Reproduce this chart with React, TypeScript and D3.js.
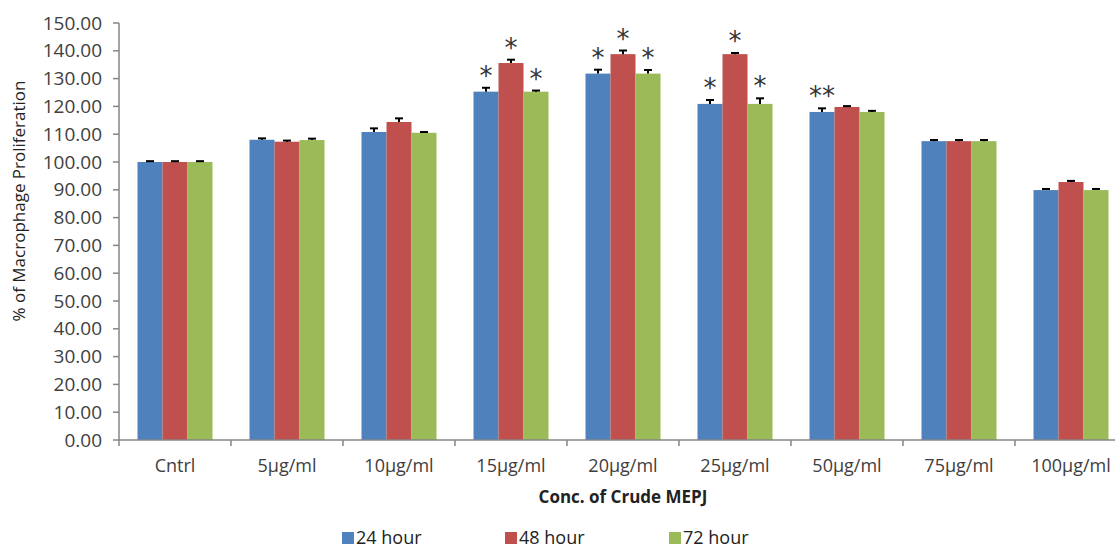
import React from "react";
import * as d3 from "d3";

const categories = [
  "Cntrl",
  "5µg/ml",
  "10µg/ml",
  "15µg/ml",
  "20µg/ml",
  "25µg/ml",
  "50µg/ml",
  "75µg/ml",
  "100µg/ml",
];
const seriesNames = ["24 hour", "48 hour", "72 hour"];
const colors = ["#4F81BD", "#C0504D", "#9BBB59"];

const h24 = [100, 108, 110.8, 125.3, 131.8, 120.9, 118, 107.5, 89.9];
const h48 = [100, 107.3, 114.4, 135.6, 138.8, 138.8, 119.8, 107.5, 92.8];
const h72 = [100, 107.9, 110.5, 125.3, 131.8, 120.9, 118, 107.5, 89.9];

const err24 = [0.3, 0.5, 1.3, 1.4, 1.4, 1.4, 1.3, 0.4, 0.4];
const err48 = [0.3, 0.4, 1.3, 1.2, 1.3, 0.4, 0.3, 0.4, 0.4];
const err72 = [0.3, 0.5, 0.3, 0.4, 1.3, 2.0, 0.4, 0.4, 0.4];

const star24 = ["", "", "", "*", "*", "*", "**", "", ""];
const star48 = ["", "", "", "*", "*", "*", "", "", ""];
const star72 = ["", "", "", "*", "*", "*", "", "", ""];

const yTicks = d3.range(0, 151, 10);

const FONT = "'Open Sans', 'Liberation Sans', sans-serif";

export default function App() {
  const width = 1115;
  const height = 550;
  const left = 119;
  const bottom = 440;
  const top = 23;

  const values = [h24, h48, h72];
  const errors = [err24, err48, err72];
  const stars = [star24, star48, star72];

  const x = d3
    .scaleBand<string>()
    .domain(categories)
    .range([left, left + 112 * categories.length])
    .padding(0);

  const inner = d3
    .scaleBand<string>()
    .domain(seriesNames)
    .range([18.5, 93.5])
    .padding(0);

  const y = d3.scaleLinear().domain([0, 150]).range([bottom, top]);

  return (
    <svg
      width={width}
      height={height}
      style={{ position: "absolute", left: 0, top: 0, background: "#fff" }}
      fontFamily={FONT}
    >
      {/* bars */}
      {categories.map((c, i) => (
        <g key={c} transform={`translate(${x(c)},0)`}>
          {seriesNames.map((s, k) => {
            const v = values[k][i];
            const e = errors[k][i];
            const bx = inner(s)!;
            const bw = inner.bandwidth();
            const cx = bx + bw / 2;
            return (
              <g key={s}>
                <rect
                  x={bx}
                  y={y(v)}
                  width={bw}
                  height={y(0) - y(v)}
                  fill={colors[k]}
                />
                <line x1={cx} x2={cx} y1={y(v)} y2={y(v + e)} stroke="#000" strokeWidth={2} />
                <line x1={cx - 4} x2={cx + 4} y1={y(v + e)} y2={y(v + e)} stroke="#000" strokeWidth={2} />
                {stars[k][i] && (
                  <text
                    x={cx}
                    y={y(v + e) - 3}
                    textAnchor="middle"
                    fontSize={26}
                    fill="#333"
                    fontFamily="'DejaVu Sans', sans-serif"
                  >
                    {stars[k][i]}
                  </text>
                )}
              </g>
            );
          })}
        </g>
      ))}

      {/* y axis */}
      <line x1={left} x2={left} y1={y(150)} y2={bottom} stroke="#868686" strokeWidth={1.5} />
      {yTicks.map((t) => (
        <g key={t}>
          <line x1={left - 6} x2={left} y1={y(t)} y2={y(t)} stroke="#868686" strokeWidth={1.5} />
          <text
            x={left - 17}
            y={y(t)}
            dy="0.35em"
            textAnchor="end"
            fontSize={19}
            fill="#404040"
          >
            {t.toFixed(2)}
          </text>
        </g>
      ))}

      {/* x axis */}
      <line x1={left} x2={width} y1={bottom} y2={bottom} stroke="#868686" strokeWidth={1.5} />
      {categories.map((c) => (
        <g key={c}>
          <line
            x1={x(c)!}
            x2={x(c)!}
            y1={bottom}
            y2={bottom + 6}
            stroke="#868686"
            strokeWidth={1.5}
          />
          <text
            x={x(c)! + x.bandwidth() / 2}
            y={bottom + 32}
            textAnchor="middle"
            fontSize={18}
            fill="#404040"
          >
            {c}
          </text>
        </g>
      ))}

      {/* axis titles */}
      <text
        x={623}
        y={503}
        textAnchor="middle"
        fontSize={17}
        fontWeight="bold"
        fill="#222"
      >
        Conc. of Crude MEPJ
      </text>
      <text
        transform={`translate(25,201) rotate(-90)`}
        textAnchor="middle"
        fontSize={17}
        fill="#222"
      >
        % of Macrophage Proliferation
      </text>

      {/* legend */}
      {seriesNames.map((s, k) => {
        const lx = [342, 505, 669][k];
        return (
          <g key={s}>
            <rect x={lx} y={532} width={12} height={12} fill={colors[k]} />
            <text x={lx + 14} y={544} fontSize={18} fill="#222">
              {s}
            </text>
          </g>
        );
      })}
    </svg>
  );
}
